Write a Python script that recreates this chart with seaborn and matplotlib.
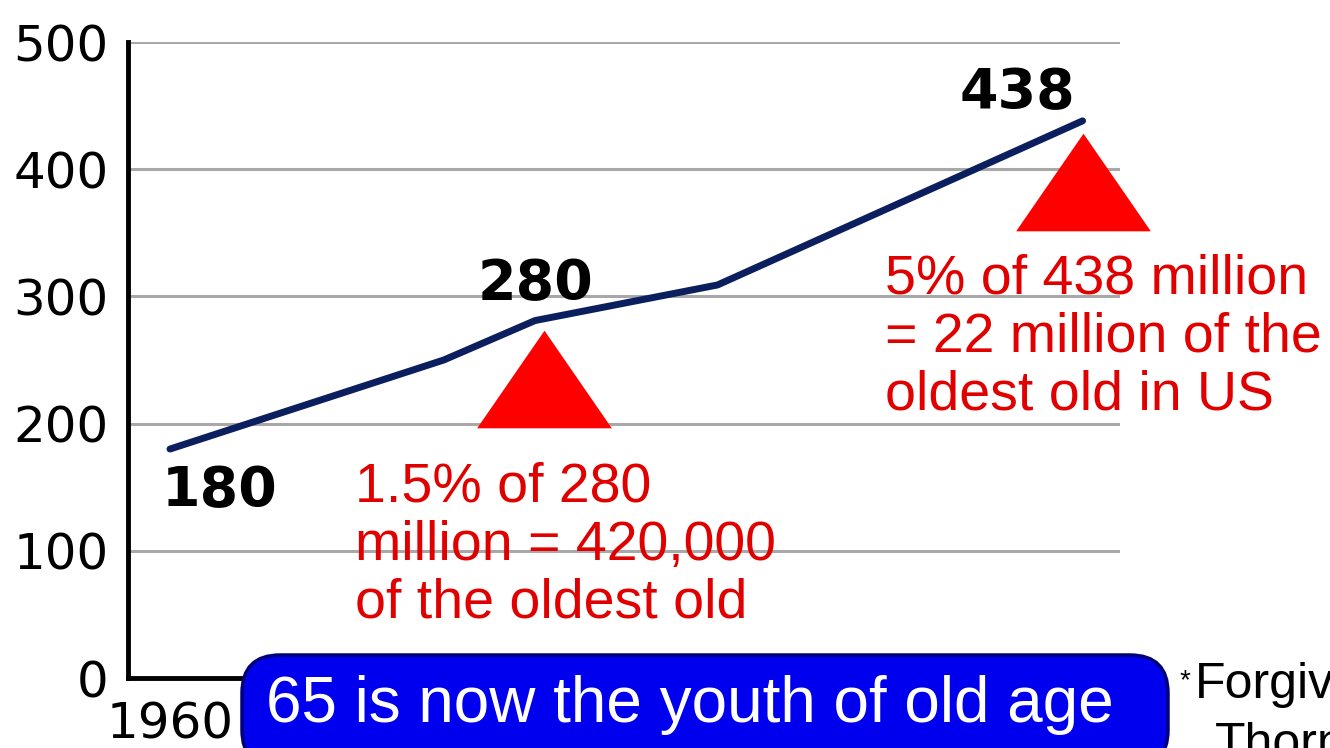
import pandas as pd
import seaborn as sns
import matplotlib.pyplot as plt
from matplotlib.patches import FancyBboxPatch
from matplotlib.transforms import IdentityTransform

# US population (millions)
years = [1960, 1990, 2000, 2020, 2060]
population = [180, 250, 281, 309, 438]

labeled_years = [1960, 2000, 2060]
labeled_values = [180, 280, 438]
label_offsets = [(36, -30), (0, 27), (-47, 20)]

marker_years = [2001, 2060]
marker_values = [235, 390]

y_ticks = [0, 100, 200, 300, 400, 500]
x_ticks = [1960]

note_left = "1.5% of 280\nmillion = 420,000\nof the oldest old"
note_right = "5% of 438 million\n= 22 million of the\noldest old in US"
banner = "65 is now the youth of old age"

df = pd.DataFrame({"year": years, "population": population})

sns.set_style("white")
plt.rcParams["font.family"] = ["Liberation Sans", "DejaVu Sans"]
plt.rcParams["text.color"] = "black"

fig = plt.figure(figsize=(13.3, 7.48), dpi=100)
ax = fig.add_axes([128 / 1330, 70 / 748, 992 / 1330, 636 / 748])

# gridlines
for v in y_ticks[1:]:
    ax.axhline(v, color="#a8a8a8", lw=2.2, zorder=1)

sns.lineplot(data=df, x="year", y="population", color="#0b1f5e", lw=5, ax=ax, zorder=3)

# red triangles
tri = [(-1.38, -1), (1.38, -1), (0, 1), (-1.38, -1)]
ax.scatter(marker_years, marker_values, marker=tri, s=97 ** 2, color="#ff0000",
           linewidths=0, zorder=4, clip_on=False)

for x, y, off in zip(labeled_years, labeled_values, label_offsets):
    ax.annotate(str(y), (x, y), xytext=off, textcoords="offset points",
                ha="center", va="center", fontsize=40, fontweight="bold",
                family=["DejaVu Sans"], color="black")

ax.set_xlim(1955.4, 2064.1)
ax.set_ylim(0, 500)
ax.set_yticks(y_ticks)
ax.set_xticks(x_ticks)
ax.tick_params(axis="y", length=0, pad=14, labelsize=36, labelcolor="black")
ax.tick_params(axis="x", length=0, pad=16, labelsize=36, labelcolor="black")
for lab in ax.get_yticklabels() + ax.get_xticklabels():
    lab.set_family(["DejaVu Sans"])
ax.set_xlabel("")
ax.set_ylabel("")
for s in ["top", "right"]:
    ax.spines[s].set_visible(False)
for s in ["left", "bottom"]:
    ax.spines[s].set_color("black")
    ax.spines[s].set_linewidth(3.5)

fig.text(355 / 1330, 1 - 462 / 748, note_left, color="#e00000", fontsize=40,
         ha="left", va="top", linespacing=1.15)
fig.text(885 / 1330, 1 - 254 / 748, note_right, color="#e00000", fontsize=40,
         ha="left", va="top", linespacing=1.15)

# blue banner
box = FancyBboxPatch((242, -20), 926, 113, boxstyle="round,pad=0,rounding_size=38",
                     transform=IdentityTransform(), facecolor="#0000ee",
                     edgecolor="#00007a", lw=2.5, zorder=5)
fig.add_artist(box)
fig.text(690 / 1330, 1 - 705 / 748, banner, color="white", fontsize=46,
         ha="center", va="center", zorder=6)

fig.text(1180 / 1330, 1 - 668 / 748, "*", fontsize=20, ha="left", va="top")
fig.text(1195 / 1330, 1 - 685 / 748, "Forgiv", fontsize=36, ha="left", va="center")
fig.text(1215 / 1330, 1 - 722 / 748, "Thorn", fontsize=36, ha="left", va="top")

fig.savefig("out.png", dpi=100)
